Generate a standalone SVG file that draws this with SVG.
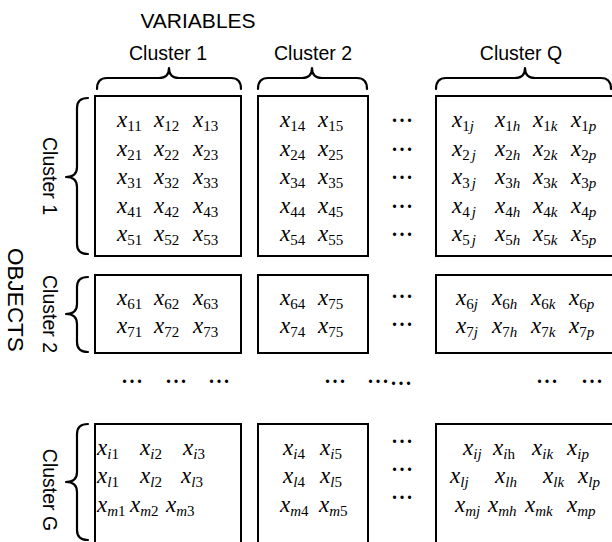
<svg xmlns="http://www.w3.org/2000/svg" width="612" height="542" viewBox="0 0 612 542">
  <style>
    .box{fill:#fff;stroke:#000;stroke-width:2}
    .brace{fill:none;stroke:#000;stroke-width:2.2;stroke-linecap:round;stroke-linejoin:round}
    .lbl{font-family:"Liberation Sans",Arial,Helvetica,sans-serif;fill:#000}
    .hd{font-size:21px}
    .ob{font-size:22.5px}
    .cl{font-size:19.5px}
    .m{font-family:"Liberation Serif","Times New Roman",serif;font-size:23px;font-style:italic;fill:#000}
    .s{font-size:15px;font-style:normal}
    .i{font-style:italic}
    .dots{font-family:"Liberation Serif","Times New Roman",serif;font-size:20px;font-weight:bold;letter-spacing:2.5px;fill:#000}
  </style>
  <rect width="612" height="542" fill="#fff"/>

  <!-- headings -->
  <g id="heading-variables" class="lbl">
    <text class="hd" x="198" y="28" text-anchor="middle">VARIABLES</text>
    <text class="cl" x="168" y="60" text-anchor="middle">Cluster 1</text>
    <text class="cl" x="313" y="60" text-anchor="middle">Cluster 2</text>
    <text class="cl" x="521" y="60" text-anchor="middle">Cluster Q</text>
  </g>
  <g id="heading-objects" class="lbl">
    <text class="ob" transform="translate(16,300) rotate(90)" y="8" text-anchor="middle">OBJECTS</text>
    <text class="cl" transform="translate(50,176) rotate(90)" y="7" text-anchor="middle">Cluster 1</text>
    <text class="cl" transform="translate(50,314) rotate(90)" y="7" text-anchor="middle">Cluster 2</text>
    <text class="cl" transform="translate(50,490) rotate(90)" y="7" text-anchor="middle">Cluster G</text>
  </g>

  <!-- curly braces grouping the clusters -->
  <g id="brackets">
    <path class="brace" d="M97,89 Q97,78 107,78 L159,78 Q169,78 169,68 Q169,78 179,78 L231,78 Q241,78 241,89"/>
    <path class="brace" d="M258,89 Q258,78 268,78 L302,78 Q312,78 312,68 Q312,78 322,78 L357,78 Q367,78 367,89"/>
    <path class="brace" d="M436,89 Q436,78 446,78 L515,78 Q525,78 525,68 Q525,78 535,78 L601,78 Q611,78 611,89"/>
    <path class="brace" d="M88,98 Q77,98 77,108 L77,167 Q77,177 66,177 Q77,177 77,187 L77,244 Q77,254 88,254"/>
    <path class="brace" d="M88,277 Q77,277 77,287 L77,304 Q77,314 66,314 Q77,314 77,324 L77,342 Q77,352 88,352"/>
    <path class="brace" d="M88,424 Q77,424 77,434 L77,472 Q77,482 66,482 Q77,482 77,492 L77,530 Q77,540 88,540"/>
  </g>

  <!-- object cluster 1 / variable cluster 1 -->
  <g id="block-1-1">
    <rect class="box" x="95" y="96" width="146" height="160"/>
    <text class="m" x="117" y="127">x<tspan class="s" dy="4">11</tspan></text>
    <text class="m" x="154" y="127">x<tspan class="s" dy="4">12</tspan></text>
    <text class="m" x="193" y="127">x<tspan class="s" dy="4">13</tspan></text>
    <text class="m" x="117" y="156">x<tspan class="s" dy="4">21</tspan></text>
    <text class="m" x="154" y="156">x<tspan class="s" dy="4">22</tspan></text>
    <text class="m" x="193" y="156">x<tspan class="s" dy="4">23</tspan></text>
    <text class="m" x="117" y="184">x<tspan class="s" dy="4">31</tspan></text>
    <text class="m" x="154" y="184">x<tspan class="s" dy="4">32</tspan></text>
    <text class="m" x="193" y="184">x<tspan class="s" dy="4">33</tspan></text>
    <text class="m" x="117" y="213">x<tspan class="s" dy="4">41</tspan></text>
    <text class="m" x="154" y="213">x<tspan class="s" dy="4">42</tspan></text>
    <text class="m" x="193" y="213">x<tspan class="s" dy="4">43</tspan></text>
    <text class="m" x="117" y="241">x<tspan class="s" dy="4">51</tspan></text>
    <text class="m" x="154" y="241">x<tspan class="s" dy="4">52</tspan></text>
    <text class="m" x="193" y="241">x<tspan class="s" dy="4">53</tspan></text>
  </g>

  <!-- object cluster 1 / variable cluster 2 -->
  <g id="block-1-2">
    <rect class="box" x="258" y="96" width="110" height="160"/>
    <text class="m" x="280" y="127">x<tspan class="s" dy="4">14</tspan></text>
    <text class="m" x="318" y="127">x<tspan class="s" dy="4">15</tspan></text>
    <text class="m" x="280" y="156">x<tspan class="s" dy="4">24</tspan></text>
    <text class="m" x="318" y="156">x<tspan class="s" dy="4">25</tspan></text>
    <text class="m" x="280" y="184">x<tspan class="s" dy="4">34</tspan></text>
    <text class="m" x="318" y="184">x<tspan class="s" dy="4">35</tspan></text>
    <text class="m" x="280" y="213">x<tspan class="s" dy="4">44</tspan></text>
    <text class="m" x="318" y="213">x<tspan class="s" dy="4">45</tspan></text>
    <text class="m" x="280" y="241">x<tspan class="s" dy="4">54</tspan></text>
    <text class="m" x="318" y="241">x<tspan class="s" dy="4">55</tspan></text>
  </g>

  <!-- object cluster 1 / variable cluster Q -->
  <g id="block-1-Q">
    <rect class="box" x="436" y="96" width="190" height="160"/>
    <text class="m" x="452" y="127">x<tspan class="s" dy="4">1<tspan class="i">j</tspan></tspan></text>
    <text class="m" x="495" y="127">x<tspan class="s" dy="4">1<tspan class="i">h</tspan></tspan></text>
    <text class="m" x="533" y="127">x<tspan class="s" dy="4">1<tspan class="i">k</tspan></tspan></text>
    <text class="m" x="571" y="127">x<tspan class="s" dy="4">1<tspan class="i">p</tspan></tspan></text>
    <text class="m" x="452" y="156">x<tspan class="s" dy="4">2<tspan class="i" dx="2">j</tspan></tspan></text>
    <text class="m" x="495" y="156">x<tspan class="s" dy="4">2<tspan class="i">h</tspan></tspan></text>
    <text class="m" x="533" y="156">x<tspan class="s" dy="4">2<tspan class="i">k</tspan></tspan></text>
    <text class="m" x="571" y="156">x<tspan class="s" dy="4">2<tspan class="i">p</tspan></tspan></text>
    <text class="m" x="452" y="184">x<tspan class="s" dy="4">3<tspan class="i" dx="2">j</tspan></tspan></text>
    <text class="m" x="495" y="184">x<tspan class="s" dy="4">3<tspan class="i">h</tspan></tspan></text>
    <text class="m" x="533" y="184">x<tspan class="s" dy="4">3<tspan class="i">k</tspan></tspan></text>
    <text class="m" x="571" y="184">x<tspan class="s" dy="4">3<tspan class="i">p</tspan></tspan></text>
    <text class="m" x="452" y="213">x<tspan class="s" dy="4">4<tspan class="i" dx="2">j</tspan></tspan></text>
    <text class="m" x="495" y="213">x<tspan class="s" dy="4">4<tspan class="i">h</tspan></tspan></text>
    <text class="m" x="533" y="213">x<tspan class="s" dy="4">4<tspan class="i">k</tspan></tspan></text>
    <text class="m" x="571" y="213">x<tspan class="s" dy="4">4<tspan class="i">p</tspan></tspan></text>
    <text class="m" x="452" y="241">x<tspan class="s" dy="4">5<tspan class="i" dx="2">j</tspan></tspan></text>
    <text class="m" x="495" y="241">x<tspan class="s" dy="4">5<tspan class="i">h</tspan></tspan></text>
    <text class="m" x="533" y="241">x<tspan class="s" dy="4">5<tspan class="i">k</tspan></tspan></text>
    <text class="m" x="571" y="241">x<tspan class="s" dy="4">5<tspan class="i">p</tspan></tspan></text>
  </g>

  <!-- object cluster 2 / variable cluster 1 -->
  <g id="block-2-1">
    <rect class="box" x="95" y="275" width="146" height="78"/>
    <text class="m" x="117" y="305">x<tspan class="s" dy="4">61</tspan></text>
    <text class="m" x="154" y="305">x<tspan class="s" dy="4">62</tspan></text>
    <text class="m" x="193" y="305">x<tspan class="s" dy="4">63</tspan></text>
    <text class="m" x="117" y="333">x<tspan class="s" dy="4">71</tspan></text>
    <text class="m" x="154" y="333">x<tspan class="s" dy="4">72</tspan></text>
    <text class="m" x="193" y="333">x<tspan class="s" dy="4">73</tspan></text>
  </g>

  <!-- object cluster 2 / variable cluster 2 -->
  <g id="block-2-2">
    <rect class="box" x="258" y="275" width="110" height="78"/>
    <text class="m" x="280" y="305">x<tspan class="s" dy="4">64</tspan></text>
    <text class="m" x="318" y="305">x<tspan class="s" dy="4">75</tspan></text>
    <text class="m" x="280" y="333">x<tspan class="s" dy="4">74</tspan></text>
    <text class="m" x="318" y="333">x<tspan class="s" dy="4">75</tspan></text>
  </g>

  <!-- object cluster 2 / variable cluster Q -->
  <g id="block-2-Q">
    <rect class="box" x="436" y="275" width="190" height="78"/>
    <text class="m" x="456" y="305">x<tspan class="s" dy="4">6<tspan class="i">j</tspan></tspan></text>
    <text class="m" x="492" y="305">x<tspan class="s" dy="4">6<tspan class="i">h</tspan></tspan></text>
    <text class="m" x="531" y="305">x<tspan class="s" dy="4">6<tspan class="i">k</tspan></tspan></text>
    <text class="m" x="569" y="305">x<tspan class="s" dy="4">6<tspan class="i">p</tspan></tspan></text>
    <text class="m" x="456" y="333">x<tspan class="s" dy="4">7<tspan class="i">j</tspan></tspan></text>
    <text class="m" x="492" y="333">x<tspan class="s" dy="4">7<tspan class="i">h</tspan></tspan></text>
    <text class="m" x="531" y="333">x<tspan class="s" dy="4">7<tspan class="i">k</tspan></tspan></text>
    <text class="m" x="569" y="333">x<tspan class="s" dy="4">7<tspan class="i">p</tspan></tspan></text>
  </g>

  <!-- object cluster G / variable cluster 1 -->
  <g id="block-G-1">
    <rect class="box" x="95" y="424" width="146" height="130"/>
    <text class="m" x="97" y="455">x<tspan class="s" dy="4"><tspan class="i">i</tspan>1</tspan></text>
    <text class="m" x="140" y="455">x<tspan class="s" dy="4"><tspan class="i">i</tspan>2</tspan></text>
    <text class="m" x="183" y="455">x<tspan class="s" dy="4"><tspan class="i">i</tspan>3</tspan></text>
    <text class="m" x="97" y="483">x<tspan class="s" dy="4"><tspan class="i">l</tspan>1</tspan></text>
    <text class="m" x="140" y="483">x<tspan class="s" dy="4"><tspan class="i">l</tspan>2</tspan></text>
    <text class="m" x="181" y="483">x<tspan class="s" dy="4"><tspan class="i">l</tspan>3</tspan></text>
    <text class="m" x="97" y="512">x<tspan class="s" dy="4"><tspan class="i">m</tspan>1</tspan></text>
    <text class="m" x="130" y="512">x<tspan class="s" dy="4"><tspan class="i">m</tspan>2</tspan></text>
    <text class="m" x="166" y="512">x<tspan class="s" dy="4"><tspan class="i">m</tspan>3</tspan></text>
  </g>

  <!-- object cluster G / variable cluster 2 -->
  <g id="block-G-2">
    <rect class="box" x="258" y="424" width="110" height="130"/>
    <text class="m" x="283" y="455">x<tspan class="s" dy="4"><tspan class="i">i</tspan>4</tspan></text>
    <text class="m" x="320" y="455">x<tspan class="s" dy="4"><tspan class="i">i</tspan>5</tspan></text>
    <text class="m" x="283" y="483">x<tspan class="s" dy="4"><tspan class="i">l</tspan>4</tspan></text>
    <text class="m" x="320" y="483">x<tspan class="s" dy="4"><tspan class="i">l</tspan>5</tspan></text>
    <text class="m" x="280" y="512">x<tspan class="s" dy="4"><tspan class="i">m</tspan>4</tspan></text>
    <text class="m" x="319" y="512">x<tspan class="s" dy="4"><tspan class="i">m</tspan>5</tspan></text>
  </g>

  <!-- object cluster G / variable cluster Q -->
  <g id="block-G-Q">
    <rect class="box" x="436" y="424" width="190" height="130"/>
    <text class="m" x="463" y="455">x<tspan class="s i" dy="4">ij</tspan></text>
    <text class="m" x="493" y="455">x<tspan class="s" dy="4"><tspan class="i">i</tspan>h</tspan></text>
    <text class="m" x="532" y="455">x<tspan class="s i" dy="4">ik</tspan></text>
    <text class="m" x="567" y="455">x<tspan class="s i" dy="4">ip</tspan></text>
    <text class="m" x="450" y="483">x<tspan class="s i" dy="4">lj</tspan></text>
    <text class="m" x="495" y="483">x<tspan class="s i" dy="4">lh</tspan></text>
    <text class="m" x="543" y="483">x<tspan class="s i" dy="4">lk</tspan></text>
    <text class="m" x="578" y="483">x<tspan class="s i" dy="4">lp</tspan></text>
    <text class="m" x="455" y="512">x<tspan class="s i" dy="4">mj</tspan></text>
    <text class="m" x="488" y="512">x<tspan class="s i" dy="4">mh</tspan></text>
    <text class="m" x="525" y="512">x<tspan class="s i" dy="4">mk</tspan></text>
    <text class="m" x="567" y="512">x<tspan class="s i" dy="4">mp</tspan></text>
  </g>

  <!-- elided columns and rows -->
  <g id="ellipses" class="dots">
    <text x="392" y="122">...</text>
    <text x="392" y="151">...</text>
    <text x="392" y="179">...</text>
    <text x="392" y="208">...</text>
    <text x="392" y="236">...</text>
    <text x="392" y="298">...</text>
    <text x="392" y="326">...</text>
    <text x="392" y="443">...</text>
    <text x="392" y="471">...</text>
    <text x="392" y="499">...</text>
    <text x="122" y="383">...</text>
    <text x="166" y="383">...</text>
    <text x="209" y="383">...</text>
    <text x="325" y="383">...</text>
    <text x="368" y="383">...</text>
    <text x="391" y="385">...</text>
    <text x="537" y="383">...</text>
    <text x="582" y="383">...</text>
  </g>
</svg>
